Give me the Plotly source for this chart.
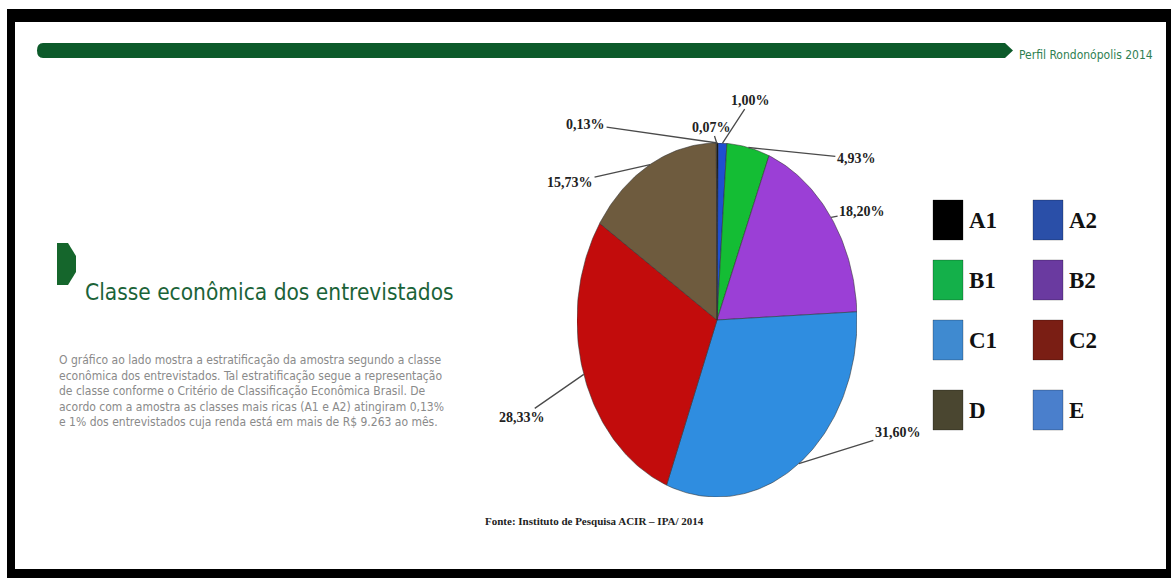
import numpy as np
import plotly.graph_objects as go

# Economic class distribution (%), clockwise from 12 o'clock
classes = ["A1", "A2", "B1", "B2", "C1", "C2", "D", "E"]
shares = [0.13, 1.00, 4.93, 18.20, 31.60, 28.33, 15.73, 0.07]
pie_colors = ["#000000", "#1f4fd0", "#14bd34", "#9b3fd6", "#2f8de0", "#c20c0c", "#6e5b3e", "#2f6fd6"]
key_colors = ["#000000", "#2a4fa8", "#14b04a", "#6a3aa0", "#3f8ad0", "#7a1e14", "#4a4630", "#4a7fcc"]

# pixel offsets (ax, ay) of each percentage label from its slice edge
label_offsets = [(-132, -19), (28, -43), (108, 11), (31, -6), (99, -31), (-62, 43), (-80, 18), (-5, -16)]

W, H = 1171, 578
fig = go.Figure()

# ---- pie drawn as filled wedges on its own axes (ellipse box) ----
total = sum(shares)
start = 0.0
mid_angles = []
for name, val, col in zip(classes, shares, pie_colors):
    a0 = start / total * 2 * np.pi
    a1 = (start + val) / total * 2 * np.pi
    n = max(3, int(np.degrees(a1 - a0)) + 2)
    t = np.linspace(a0, a1, n)
    xs = np.concatenate([[0], np.sin(t), [0]])
    ys = np.concatenate([[0], np.cos(t), [0]])
    fig.add_trace(go.Scatter(
        x=xs, y=ys, xaxis="x2", yaxis="y2", mode="lines",
        fill="toself", fillcolor=col,
        line=dict(color="rgba(50,50,50,0.55)", width=1),
        hoverinfo="skip", showlegend=False, name=name,
    ))
    mid_angles.append((a0 + a1) / 2)
    start += val

annotations = []
for val, ang, (ox, oy) in zip(shares, mid_angles, label_offsets):
    annotations.append(dict(
        x=float(np.sin(ang)), y=float(np.cos(ang)), xref="x2", yref="y2",
        text=f"{val:.2f}".replace(".", ",") + "%",
        showarrow=True, arrowhead=0, arrowwidth=1.3, arrowcolor="#4a4a4a",
        ax=ox, ay=oy, standoff=0,
        font=dict(family="Liberation Serif", size=14, color="#222222", weight="bold"),
    ))

# ---- class key (two columns) ----
key_rows_y = [220, 280, 340, 410]
shapes = []
for i, (name, col) in enumerate(zip(classes, key_colors)):
    cx = 933 + 100 * (i % 2)
    cy = key_rows_y[i // 2]
    shapes.append(dict(type="rect", xref="x", yref="y", x0=cx, x1=cx + 30, y0=cy - 20, y1=cy + 20,
                       fillcolor=col, line=dict(color="rgba(0,0,0,0.25)", width=1), layer="above"))
    annotations.append(dict(x=cx + 34, y=cy, xref="x", yref="y", text=name, showarrow=False,
                            xanchor="left", yanchor="middle",
                            font=dict(family="Liberation Serif", size=23, color="#111111", weight="bold")))

# ---- frame, header bar and decorations ----
frame = [
    dict(type="rect", x0=7, x1=W, y0=9, y1=H, fillcolor="#000000", line=dict(width=0), layer="below"),
    dict(type="rect", x0=15, x1=1166, y0=22, y1=569, fillcolor="#ffffff", line=dict(width=0), layer="below"),
    dict(type="path", path="M 43 43 L 1005 43 L 1013 50.5 L 1005 58 L 43 58 Q 37 58 37 50.5 Q 37 43 43 43 Z",
         fillcolor="#0c5a2a", line=dict(width=0), layer="below"),
    dict(type="path", path="M 57 243 L 68 243 L 76 256 L 76 272 L 68 285 L 57 285 Z",
         fillcolor="#15662c", line=dict(width=0), layer="below"),
]
for s in frame:
    s.update(xref="x", yref="y")
shapes = frame + shapes

narrow = "Liberation Sans Narrow, DejaVu Sans Condensed, sans-serif"
annotations += [
    dict(x=1017, y=55, xref="x", yref="y", text="Perfil Rondonópolis 2014", showarrow=False,
         xanchor="left", yanchor="middle", font=dict(family=narrow, size=12, color="#2f7f52")),
    dict(x=83, y=292, xref="x", yref="y", text="Classe econômica dos entrevistados", showarrow=False,
         xanchor="left", yanchor="middle", font=dict(family=narrow, size=22.5, color="#1b6338")),
    dict(x=57, y=391, xref="x", yref="y", showarrow=False, xanchor="left", yanchor="middle", align="left",
         text=("O gráfico ao lado mostra a estratificação da amostra segundo a classe<br>"
               "econômica dos entrevistados. Tal estratificação segue a representação<br>"
               "de classe conforme o Critério de Classificação Econômica Brasil. De<br>"
               "acordo com a amostra as classes mais ricas (A1 e A2) atingiram 0,13%<br>"
               "e 1% dos entrevistados cuja renda está em mais de R$ 9.263 ao mês."),
         font=dict(family=narrow, size=12, color="#8a8a8a")),
    dict(x=483, y=521, xref="x", yref="y", text="Fonte: Instituto de Pesquisa ACIR – IPA/ 2014",
         showarrow=False, xanchor="left", yanchor="middle",
         font=dict(family="Liberation Serif", size=11, color="#222222", weight="bold")),
]

fig.update_layout(
    width=W, height=H, margin=dict(l=0, r=0, t=0, b=0),
    paper_bgcolor="#ffffff", plot_bgcolor="rgba(0,0,0,0)",
    xaxis=dict(domain=[0, 1], range=[0, W], visible=False, fixedrange=True),
    yaxis=dict(domain=[0, 1], range=[H, 0], visible=False, fixedrange=True),
    xaxis2=dict(domain=[577 / W, 857 / W], range=[-1, 1], visible=False, fixedrange=True),
    yaxis2=dict(domain=[1 - 497 / H, 1 - 143 / H], range=[-1, 1], visible=False, fixedrange=True),
    shapes=shapes, annotations=annotations, showlegend=False,
)

fig.write_html("out.html")
